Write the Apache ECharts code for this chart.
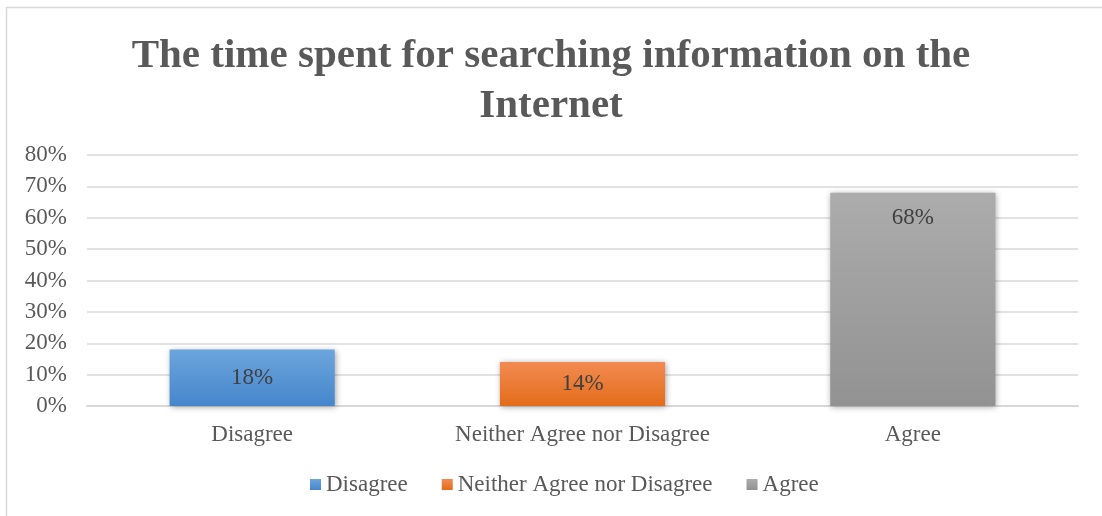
<!DOCTYPE html>
<html>
<head>
<meta charset="utf-8">
<script src="https://cdn.jsdelivr.net/npm/echarts@6/dist/echarts.min.js"></script>
<style>
  html, body { margin: 0; padding: 0; background: #fff; }
  #chart { width: 1102px; height: 516px; }
</style>
</head>
<body>
<div id="chart"></div>
<script>
// data
const categories = ["Disagree", "Neither Agree nor Disagree", "Agree"];
const disagreeValues = [18, null, null];
const neitherValues = [null, 14, null];
const agreeValues = [null, null, 68];
const yTicks = [0, 10, 20, 30, 40, 50, 60, 70, 80];

const myChart = echarts.init(document.getElementById("chart"));

function grad(top, bottom) {
  return new echarts.graphic.LinearGradient(0, 0, 0, 1, [
    { offset: 0, color: top },
    { offset: 1, color: bottom },
  ]);
}

function makeSeries(name, data, top, bottom, labelPos) {
  return {
    name: name,
    type: "bar",
    stack: "all",
    data: data,
    barWidth: "50%",
    itemStyle: {
      color: grad(top, bottom),
      shadowColor: "rgba(0,0,0,0.35)",
      shadowBlur: 6,
      shadowOffsetX: 1,
      shadowOffsetY: 1,
    },
    label: {
      show: true,
      position: labelPos,
      distance: 14,
      formatter: "{c}%",
      fontFamily: "Liberation Serif",
      fontSize: 23,
      color: "#404040",
    },
  };
}

const option = {
  animation: false,
  title: {
    text: "The time spent for searching information on the\nInternet",
    left: "center",
    top: 26,
    textStyle: {
      fontFamily: "Liberation Serif",
      fontWeight: "bold",
      fontSize: 41,
      lineHeight: 50,
      color: "#595959",
    },
  },
  graphic: [
    {
      type: "rect",
      shape: { x: 6.5, y: 7.5, width: 1200, height: 600 },
      style: { fill: null, stroke: "#d9d9d9", lineWidth: 1.5 },
      silent: true,
    },
  ],
  legend: {
    bottom: 15,
    left: 305,
    itemWidth: 11,
    itemHeight: 11,
    itemGap: 34,
    icon: "rect",
    textStyle: {
      fontFamily: "Liberation Serif",
      fontSize: 23,
      color: "#595959",
    },
    data: categories,
  },
  grid: {
    left: 87,
    right: 24,
    top: 155,
    bottom: 110,
  },
  xAxis: {
    type: "category",
    data: categories,
    axisTick: { show: false },
    axisLine: { lineStyle: { color: "#d9d9d9", width: 2 } },
    axisLabel: {
      interval: 0,
      margin: 17,
      fontFamily: "Liberation Serif",
      fontSize: 23,
      color: "#595959",
    },
  },
  yAxis: {
    type: "value",
    min: yTicks[0],
    max: yTicks[yTicks.length - 1],
    interval: 10,
    axisLine: { show: false },
    axisTick: { show: false },
    splitLine: { lineStyle: { color: "#d9d9d9", width: 1.5 } },
    axisLabel: {
      margin: 20,
      formatter: "{value}%",
      fontFamily: "Liberation Serif",
      fontSize: 23,
      color: "#595959",
    },
  },
  series: [
    makeSeries("Disagree", disagreeValues, "#6ca5dd", "#4686cc", "inside"),
    makeSeries("Neither Agree nor Disagree", neitherValues, "#f28b52", "#e36c1a", "inside"),
    makeSeries("Agree", agreeValues, "#acacac", "#929292", "insideTop"),
  ],
};

myChart.setOption(option);
</script>
</body>
</html>
